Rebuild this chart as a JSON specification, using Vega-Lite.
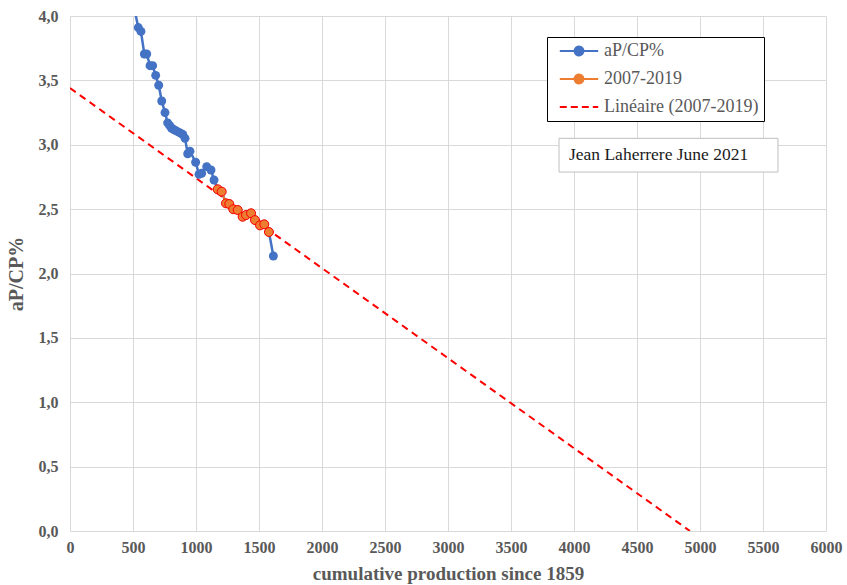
{
  "$schema": "https://vega.github.io/schema/vega-lite/v6.json",
  "width": 756,
  "height": 515,
  "autosize": {"type": "none"},
  "padding": {"left": 70, "top": 16, "right": 21, "bottom": 54},
  "background": "white",
  "config": {
    "view": {"stroke": null},
    "font": "Liberation Serif",
    "axis": {"gridColor": "#d9d9d9", "gridWidth": 1, "domain": false, "ticks": false, "labelFlush": false,
             "labelFont": "Liberation Serif", "labelFontWeight": "bold", "labelFontSize": 16, "labelColor": "#595959",
             "titleFont": "Liberation Serif", "titleFontWeight": "bold"}
  },
  "datasets": {
    "blue": [
      {"i": 0, "x": 480, "y": 4.2},
      {"i": 1, "x": 542, "y": 3.91},
      {"i": 2, "x": 563, "y": 3.88},
      {"i": 3, "x": 590, "y": 3.705},
      {"i": 4, "x": 609, "y": 3.705},
      {"i": 5, "x": 635, "y": 3.614},
      {"i": 6, "x": 656, "y": 3.614},
      {"i": 7, "x": 680, "y": 3.539},
      {"i": 8, "x": 704, "y": 3.462},
      {"i": 9, "x": 728, "y": 3.34},
      {"i": 10, "x": 754, "y": 3.25},
      {"i": 11, "x": 775, "y": 3.17},
      {"i": 12, "x": 790, "y": 3.15},
      {"i": 13, "x": 805, "y": 3.13},
      {"i": 14, "x": 820, "y": 3.12},
      {"i": 15, "x": 838, "y": 3.11},
      {"i": 16, "x": 858, "y": 3.1},
      {"i": 17, "x": 878, "y": 3.09},
      {"i": 18, "x": 895, "y": 3.08},
      {"i": 19, "x": 913, "y": 3.05},
      {"i": 20, "x": 934, "y": 2.93},
      {"i": 21, "x": 952, "y": 2.95},
      {"i": 22, "x": 997, "y": 2.864},
      {"i": 23, "x": 1024, "y": 2.77},
      {"i": 24, "x": 1045, "y": 2.778},
      {"i": 25, "x": 1085, "y": 2.83},
      {"i": 26, "x": 1119, "y": 2.804},
      {"i": 27, "x": 1143, "y": 2.726},
      {"i": 28, "x": 1172, "y": 2.654},
      {"i": 29, "x": 1204, "y": 2.636},
      {"i": 30, "x": 1238, "y": 2.545},
      {"i": 31, "x": 1264, "y": 2.54},
      {"i": 32, "x": 1296, "y": 2.499},
      {"i": 33, "x": 1331, "y": 2.493},
      {"i": 34, "x": 1370, "y": 2.441},
      {"i": 35, "x": 1397, "y": 2.454},
      {"i": 36, "x": 1437, "y": 2.468},
      {"i": 37, "x": 1468, "y": 2.415},
      {"i": 38, "x": 1508, "y": 2.374},
      {"i": 39, "x": 1542, "y": 2.382},
      {"i": 40, "x": 1579, "y": 2.322},
      {"i": 41, "x": 1614, "y": 2.136}
    ],
    "orange": [
      {"year": 2007, "x": 1172, "y": 2.654},
      {"year": 2008, "x": 1204, "y": 2.636},
      {"year": 2009, "x": 1238, "y": 2.545},
      {"year": 2010, "x": 1264, "y": 2.54},
      {"year": 2011, "x": 1296, "y": 2.499},
      {"year": 2012, "x": 1331, "y": 2.493},
      {"year": 2013, "x": 1370, "y": 2.441},
      {"year": 2014, "x": 1397, "y": 2.454},
      {"year": 2015, "x": 1437, "y": 2.468},
      {"year": 2016, "x": 1468, "y": 2.415},
      {"year": 2017, "x": 1508, "y": 2.374},
      {"year": 2018, "x": 1542, "y": 2.382},
      {"year": 2019, "x": 1579, "y": 2.322}
    ],
    "trend": [
      {"x": 0, "y": 3.44},
      {"x": 4920, "y": 0}
    ],
    "note": [
      {"x": 3881, "x2": 5619, "y": 3.05, "y2": 2.788, "xt": 3960, "ym": 2.92, "label": "Jean Laherrere June 2021"}
    ]
  },
  "encoding": {
    "x": {"field": "x", "type": "quantitative",
          "scale": {"domain": [0, 6000], "nice": false},
          "axis": {"values": [0,500,1000,1500,2000,2500,3000,3500,4000,4500,5000,5500,6000], "format": "d", "labelPadding": 8,
                   "title": "cumulative production since 1859", "titleFontSize": 19, "titleColor": "#595959", "titlePadding": 9}},
    "y": {"field": "y", "type": "quantitative",
          "scale": {"domain": [0, 4], "nice": false},
          "axis": {"values": [0,0.5,1,1.5,2,2.5,3,3.5,4], "labelExpr": "replace(format(datum.value, '.1f'), '.', ',')", "labelPadding": 12,
                   "title": "aP/CP%", "titleFontSize": 20, "titleColor": "#595959", "titlePadding": 12}}
  },
  "layer": [
    {
      "data": {"name": "trend"},
      "mark": {"type": "line", "strokeDash": [7, 5], "strokeWidth": 2, "clip": true},
      "encoding": {"color": {"datum": "Linéaire (2007-2019)", "type": "nominal",
        "scale": {"domain": ["aP/CP%", "2007-2019", "Linéaire (2007-2019)"], "range": ["#4472C4", "#ED7D31", "#FF0000"]},
        "legend": {
          "orient": "none", "legendX": 477, "legendY": 21, "title": null,
          "strokeColor": "black", "fillColor": "white", "padding": 5,
          "labelFont": "Liberation Serif", "labelFontSize": 18, "labelColor": "#595959",
          "labelExpr": "datum.label + '\u00a0\u00a0\u00a0'",
          "symbolSize": 256, "symbolOffset": 18, "labelOffset": 16, "symbolStrokeWidth": 2, "rowPadding": 10,
          "encode": {
            "symbols": {"update": {
              "shape": {"signal": "datum.value === 'Linéaire (2007-2019)' ? 'M-2.4,0H2.4' : 'M-2.4,0H2.4M0.55,0A0.55,0.55,0,1,1,-0.55,0A0.55,0.55,0,1,1,0.55,0'"},
              "strokeDash": {"signal": "datum.value === 'Linéaire (2007-2019)' ? [7,4] : [1,0]"},
              "fill": {"signal": "datum.value === 'aP/CP%' ? '#4472C4' : datum.value === '2007-2019' ? '#ED7D31' : 'transparent'"},
              "stroke": {"signal": "datum.value === 'aP/CP%' ? '#4472C4' : datum.value === '2007-2019' ? '#ED7D31' : '#FF0000'"},
              "strokeWidth": {"value": 2},
              "opacity": {"value": 1}
            }}
          }
        }}}
    },
    {
      "data": {"name": "blue"},
      "mark": {"type": "line", "strokeWidth": 2.5, "clip": true, "point": {"filled": true, "size": 80, "clip": true}},
      "encoding": {"order": {"field": "i"}, "color": {"datum": "aP/CP%", "type": "nominal"}}
    },
    {
      "data": {"name": "orange"},
      "mark": {"type": "line", "strokeWidth": 2, "clip": true},
      "encoding": {"order": {"field": "year"}, "color": {"datum": "2007-2019", "type": "nominal"}}
    },
    {
      "data": {"name": "orange"},
      "mark": {"type": "point", "filled": true, "fill": "#ED7D31", "stroke": "#FF0000", "strokeWidth": 1, "size": 80, "opacity": 1}
    },
    {
      "data": {"name": "note"},
      "mark": {"type": "rect", "fill": "white", "stroke": "#bfbfbf", "strokeWidth": 1},
      "encoding": {"x": {"field": "x", "type": "quantitative"}, "x2": {"field": "x2"}, "y": {"field": "y", "type": "quantitative"}, "y2": {"field": "y2"}}
    },
    {
      "data": {"name": "note"},
      "mark": {"type": "text", "font": "Liberation Serif", "fontSize": 17.5, "color": "#1a1a1a", "align": "left", "baseline": "middle"},
      "encoding": {"x": {"field": "xt", "type": "quantitative"}, "y": {"field": "ym", "type": "quantitative"}, "text": {"field": "label"}}
    }
  ]
}
